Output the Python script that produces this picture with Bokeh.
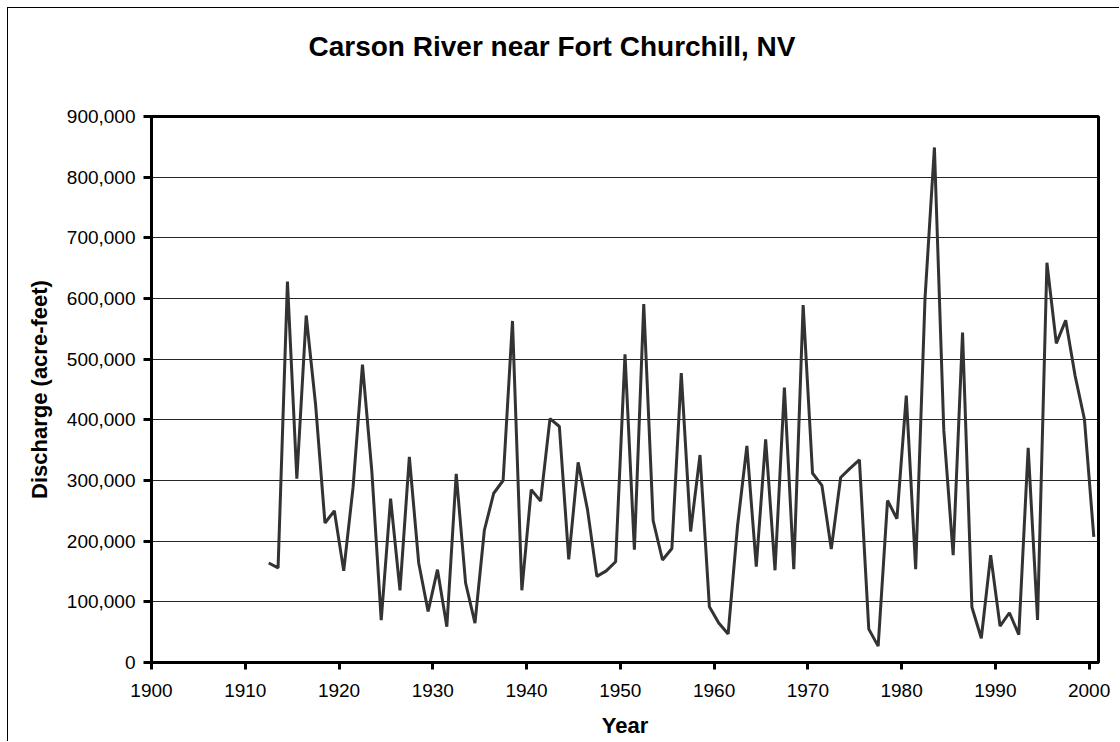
from bokeh.plotting import figure
from bokeh.models import Range1d, FixedTicker, NumeralTickFormatter, ColumnDataSource
from bokeh.embed import file_html
from bokeh.resources import INLINE

# Water years (categories) and annual discharge, acre-feet
years = list(range(1912, 2001))
discharge = [
    164000, 156000, 628000, 303000, 572000, 425000, 230000, 250000, 151000, 289000,
    491000, 315000, 70000, 270000, 119000, 339000, 164000, 84000, 153000, 59000,
    311000, 131000, 65000, 218000, 279000, 300000, 563000, 119000, 285000, 266000,
    402000, 389000, 170000, 330000, 252000, 142000, 151000, 166000, 508000, 186000,
    591000, 234000, 169000, 188000, 477000, 216000, 342000, 92000, 65000, 47000,
    225000, 357000, 158000, 368000, 152000, 453000, 154000, 589000, 312000, 292000,
    187000, 305000, 320000, 334000, 55000, 27000, 267000, 237000, 440000, 154000,
    601000, 849000, 383000, 177000, 544000, 91000, 40000, 177000, 60000, 82000,
    46000, 354000, 70000, 659000, 526000, 564000, 473000, 401000, 207000,
]
x_ticks = list(range(1900, 2001, 10))
y_ticks = list(range(0, 900001, 100000))

title_text = "Carson River near Fort Churchill, NV"
x_title = "Year"
y_title = "Discharge (acre-feet)"

FONT = "Liberation Sans"

# category axis: each year occupies one unit, point drawn at the category centre
xs = [y + 0.5 for y in years]
src = ColumnDataSource(dict(x=xs, y=discharge))

W, H = 1112, 734
LEFT, RIGHT, TOP, BOTTOM = 143, 22, 108, 80
# trailing blank line lifts the title toward the top of the chart area
p = figure(width=W, height=H, output_backend="svg", toolbar_location=None,
           x_range=Range1d(1900, 2001), y_range=Range1d(0, 900000),
           min_border_left=LEFT, min_border_right=RIGHT, min_border_top=TOP,
           min_border_bottom=BOTTOM, title=title_text + "\n ")
p.styles = {"margin-left": "7px", "margin-top": "7px",
            "border-left": "1px solid #000000", "border-top": "1px solid #000000"}

p.line("x", "y", source=src, line_color="#333333", line_width=3)

p.outline_line_color = "#000000"
p.outline_line_width = 3
p.background_fill_color = "white"
p.border_fill_color = "white"

p.title.text_font = FONT
p.title.text_font_size = "28px"
p.title.text_font_style = "bold"
p.title.text_color = "#000000"
p.title.text_line_height = 1.5
p.title.align = "left"
p.title.offset = 157
p.title.standoff = 17

p.xgrid.grid_line_color = None
p.ygrid.grid_line_color = "#000000"
p.ygrid.grid_line_width = 1
p.ygrid.grid_line_alpha = 0.85

p.xaxis.ticker = FixedTicker(ticks=x_ticks)
p.yaxis.ticker = FixedTicker(ticks=y_ticks)
p.yaxis.formatter = NumeralTickFormatter(format="0,0")
p.xaxis.formatter = NumeralTickFormatter(format="0")

for ax in (p.xaxis[0], p.yaxis[0]):
    ax.axis_line_color = "#000000"
    ax.axis_line_width = 3
    ax.major_tick_line_color = "#000000"
    ax.major_tick_line_width = 3
    ax.major_tick_in = 0
    ax.minor_tick_line_color = None
    ax.major_label_text_font = FONT
    ax.major_label_text_font_size = "19px"
    ax.major_label_text_color = "#000000"
    ax.axis_label_text_font = FONT
    ax.axis_label_text_font_size = "22px"
    ax.axis_label_text_font_style = "bold"
    ax.axis_label_text_color = "#000000"

p.yaxis.major_tick_out = 8
p.yaxis.major_label_standoff = 8
p.yaxis.axis_label = y_title
p.yaxis.axis_label_standoff = 12

p.xaxis.major_tick_out = 7
p.xaxis.major_label_standoff = 14
p.xaxis.axis_label = x_title
p.xaxis.axis_label_standoff = 13

open("out.html", "w").write(file_html(p, INLINE))
